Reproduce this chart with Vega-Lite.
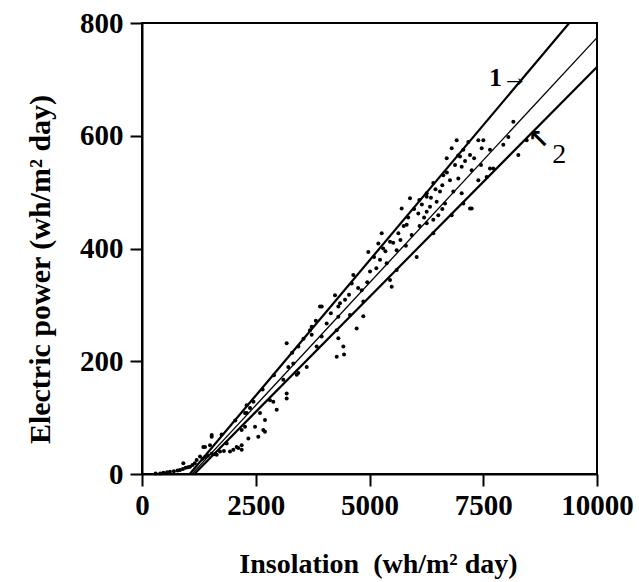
{
  "$schema": "https://vega.github.io/schema/vega-lite/v6.json",
  "width": 455,
  "height": 451,
  "autosize": {"type": "none"},
  "padding": {"left": 142, "top": 23, "right": 42, "bottom": 108},
  "background": "white",
  "config": {
    "view": {"stroke": "black", "strokeWidth": 2},
    "font": "Liberation Serif",
    "axis": {
      "grid": false,
      "domainColor": "black",
      "domainWidth": 2,
      "tickColor": "black",
      "tickWidth": 2,
      "tickSize": 12,
      "labelFont": "Liberation Serif",
      "labelFontSize": 29,
      "labelFontWeight": "bold",
      "labelColor": "black",
      "labelFlush": false,
      "labelOverlap": false,
      "titleFont": "Liberation Serif",
      "titleFontSize": 28,
      "titleFontWeight": "bold",
      "titleColor": "black"
    }
  },
  "datasets": {
    "pts": [
      {"x": 300, "y": 1}, {"x": 400, "y": 1}, {"x": 470, "y": 2}, {"x": 550, "y": 3}, {"x": 615, "y": 4},
      {"x": 700, "y": 5}, {"x": 780, "y": 6}, {"x": 835, "y": 7}, {"x": 900, "y": 9}, {"x": 960, "y": 11},
      {"x": 1010, "y": 12}, {"x": 1055, "y": 13}, {"x": 1110, "y": 16}, {"x": 1160, "y": 19}, {"x": 1201, "y": 25},
      {"x": 1275, "y": 31}, {"x": 1330, "y": 27}, {"x": 1385, "y": 30}, {"x": 1450, "y": 33}, {"x": 1531, "y": 36},
      {"x": 1600, "y": 35}, {"x": 1641, "y": 34}, {"x": 1714, "y": 40}, {"x": 1800, "y": 41}, {"x": 1934, "y": 40},
      {"x": 2007, "y": 43}, {"x": 2081, "y": 48}, {"x": 2191, "y": 43},
      {"x": 908, "y": 19}, {"x": 1385, "y": 48}, {"x": 1348, "y": 48}, {"x": 1495, "y": 51}, {"x": 1531, "y": 69},
      {"x": 1531, "y": 66}, {"x": 1861, "y": 54}, {"x": 2117, "y": 46}, {"x": 2191, "y": 51}, {"x": 2191, "y": 78},
      {"x": 2264, "y": 84}, {"x": 2264, "y": 108}, {"x": 2301, "y": 122}, {"x": 2301, "y": 108}, {"x": 2374, "y": 117},
      {"x": 2337, "y": 63}, {"x": 2556, "y": 66}, {"x": 2666, "y": 78}, {"x": 2484, "y": 84}, {"x": 2703, "y": 96},
      {"x": 2703, "y": 75}, {"x": 2593, "y": 108}, {"x": 2813, "y": 131}, {"x": 2886, "y": 128}, {"x": 2960, "y": 114},
      {"x": 3106, "y": 167}, {"x": 3180, "y": 143}, {"x": 3180, "y": 134}, {"x": 3180, "y": 232}, {"x": 3215, "y": 190},
      {"x": 3325, "y": 196}, {"x": 3400, "y": 176}, {"x": 3436, "y": 179}, {"x": 3620, "y": 190}, {"x": 3692, "y": 255},
      {"x": 3436, "y": 226}, {"x": 3729, "y": 261}, {"x": 3729, "y": 247}, {"x": 3839, "y": 226}, {"x": 3912, "y": 297},
      {"x": 3949, "y": 297}, {"x": 3949, "y": 244}, {"x": 4059, "y": 267}, {"x": 4242, "y": 317}, {"x": 4279, "y": 255},
      {"x": 4279, "y": 208}, {"x": 4315, "y": 297}, {"x": 4315, "y": 279}, {"x": 4315, "y": 241}, {"x": 4352, "y": 303},
      {"x": 4425, "y": 226}, {"x": 4440, "y": 212}, {"x": 4462, "y": 309}, {"x": 4571, "y": 282}, {"x": 4609, "y": 338},
      {"x": 4644, "y": 353}, {"x": 4718, "y": 258}, {"x": 4828, "y": 326}, {"x": 4864, "y": 306}, {"x": 4864, "y": 280},
      {"x": 4974, "y": 394}, {"x": 5011, "y": 359}, {"x": 5194, "y": 409}, {"x": 5231, "y": 380}, {"x": 5268, "y": 427},
      {"x": 5378, "y": 374}, {"x": 5451, "y": 412}, {"x": 5451, "y": 344}, {"x": 5488, "y": 332}, {"x": 5597, "y": 397},
      {"x": 5597, "y": 362}, {"x": 5634, "y": 427}, {"x": 5707, "y": 471}, {"x": 5817, "y": 442}, {"x": 5890, "y": 489},
      {"x": 5927, "y": 424}, {"x": 6037, "y": 385}, {"x": 6073, "y": 462}, {"x": 6095, "y": 486}, {"x": 6257, "y": 498},
      {"x": 6257, "y": 445}, {"x": 6257, "y": 465}, {"x": 6257, "y": 492}, {"x": 6330, "y": 474}, {"x": 6402, "y": 451},
      {"x": 6402, "y": 427}, {"x": 6402, "y": 516}, {"x": 6476, "y": 483}, {"x": 6512, "y": 459}, {"x": 6549, "y": 501},
      {"x": 6622, "y": 530}, {"x": 6659, "y": 480}, {"x": 6697, "y": 560}, {"x": 6769, "y": 521}, {"x": 6806, "y": 578},
      {"x": 6806, "y": 459}, {"x": 6842, "y": 501}, {"x": 6916, "y": 592}, {"x": 6952, "y": 524}, {"x": 6989, "y": 563},
      {"x": 7026, "y": 545}, {"x": 7026, "y": 498}, {"x": 7062, "y": 575}, {"x": 7062, "y": 480}, {"x": 7172, "y": 589},
      {"x": 7209, "y": 566}, {"x": 7209, "y": 471}, {"x": 7246, "y": 539}, {"x": 7246, "y": 471}, {"x": 7392, "y": 592},
      {"x": 7392, "y": 521}, {"x": 7466, "y": 578}, {"x": 7502, "y": 592}, {"x": 7575, "y": 527}, {"x": 7648, "y": 575},
      {"x": 7648, "y": 542}, {"x": 7721, "y": 542}, {"x": 7941, "y": 584}, {"x": 8051, "y": 598}, {"x": 8161, "y": 625},
      {"x": 8271, "y": 566}, {"x": 8454, "y": 592},
      {"x": 5100, "y": 385}, {"x": 5300, "y": 400}, {"x": 5350, "y": 395}, {"x": 5520, "y": 410}, {"x": 5680, "y": 415},
      {"x": 5750, "y": 440}, {"x": 5850, "y": 455}, {"x": 5980, "y": 470}, {"x": 6150, "y": 478}, {"x": 6200, "y": 455},
      {"x": 6350, "y": 490}, {"x": 6450, "y": 505}, {"x": 6600, "y": 512}, {"x": 6700, "y": 535}, {"x": 6880, "y": 548},
      {"x": 6950, "y": 565}, {"x": 7100, "y": 555}, {"x": 7300, "y": 560}, {"x": 5150, "y": 365}, {"x": 4950, "y": 340},
      {"x": 4750, "y": 330}, {"x": 4550, "y": 318}, {"x": 4150, "y": 285}, {"x": 3820, "y": 272}, {"x": 3550, "y": 240},
      {"x": 3300, "y": 215}, {"x": 2900, "y": 175}, {"x": 2650, "y": 150}, {"x": 2450, "y": 128}, {"x": 2050, "y": 95},
      {"x": 1750, "y": 70}, {"x": 5800, "y": 405}, {"x": 6100, "y": 440}, {"x": 6600, "y": 470}, {"x": 7450, "y": 548}
    ],
    "lines": [
      {"series": "1", "x": 1050, "y": 0}, {"series": "1", "x": 9390, "y": 800},
      {"series": "m", "x": 1100, "y": 0}, {"series": "m", "x": 10000, "y": 774},
      {"series": "2", "x": 1150, "y": 0}, {"series": "2", "x": 10000, "y": 722}
    ],
    "notes": [
      {"label": "1→", "x": 7626, "y": 702},
      {"label": "↖", "x": 8720, "y": 592},
      {"label": "2", "x": 9170, "y": 566}
    ]
  },
  "encoding": {
    "x": {
      "field": "x", "type": "quantitative",
      "scale": {"domain": [0, 10000], "nice": false, "zero": false},
      "axis": {
        "values": [0, 2500, 5000, 7500, 10000],
        "format": "d",
        "labelPadding": 5,
        "title": "Insolation \u00a0(wh/m² day)",
        "titleY": 98,
        "titleX": 236,
        "titleBaseline": "alphabetic"
      }
    },
    "y": {
      "field": "y", "type": "quantitative",
      "scale": {"domain": [0, 800], "nice": false, "zero": false},
      "axis": {
        "values": [0, 200, 400, 600, 800],
        "format": "d",
        "labelPadding": 7,
        "title": "Electric power (wh/m² day)",
        "titleFontSize": 30,
        "titleAngle": -90,
        "titleAlign": "center",
        "titleBaseline": "alphabetic",
        "titleX": -93,
        "titleY": 246
      }
    }
  },
  "layer": [
    {
      "data": {"name": "pts"},
      "mark": {"type": "circle", "size": 16, "color": "black", "opacity": 1}
    },
    {
      "data": {"name": "lines"},
      "transform": [{"filter": "datum.series === '1'"}],
      "mark": {"type": "line", "color": "black", "strokeWidth": 2.2, "clip": true}
    },
    {
      "data": {"name": "lines"},
      "transform": [{"filter": "datum.series === 'm'"}],
      "mark": {"type": "line", "color": "black", "strokeWidth": 1.3, "clip": true}
    },
    {
      "data": {"name": "lines"},
      "transform": [{"filter": "datum.series === '2'"}],
      "mark": {"type": "line", "color": "black", "strokeWidth": 2.2, "clip": true}
    },
    {
      "data": {"name": "notes"},
      "mark": {"type": "text", "align": "left", "baseline": "middle", "fontSize": 26, "fontWeight": "bold", "color": "black", "font": "Liberation Serif"},
      "transform": [{"filter": "datum.label !== '2' && datum.label !== '↖'"}],
      "encoding": {"text": {"field": "label"}}
    },
    {
      "data": {"name": "notes"},
      "mark": {"type": "text", "align": "center", "baseline": "middle", "fontSize": 26, "fontWeight": "bold", "color": "black", "font": "DejaVu Sans"},
      "transform": [{"filter": "datum.label === '↖'"}],
      "encoding": {"text": {"field": "label"}}
    },
    {
      "data": {"name": "notes"},
      "mark": {"type": "text", "align": "center", "baseline": "middle", "fontSize": 28, "color": "black", "font": "Liberation Serif"},
      "transform": [{"filter": "datum.label === '2'"}],
      "encoding": {"text": {"field": "label"}}
    }
  ]
}
